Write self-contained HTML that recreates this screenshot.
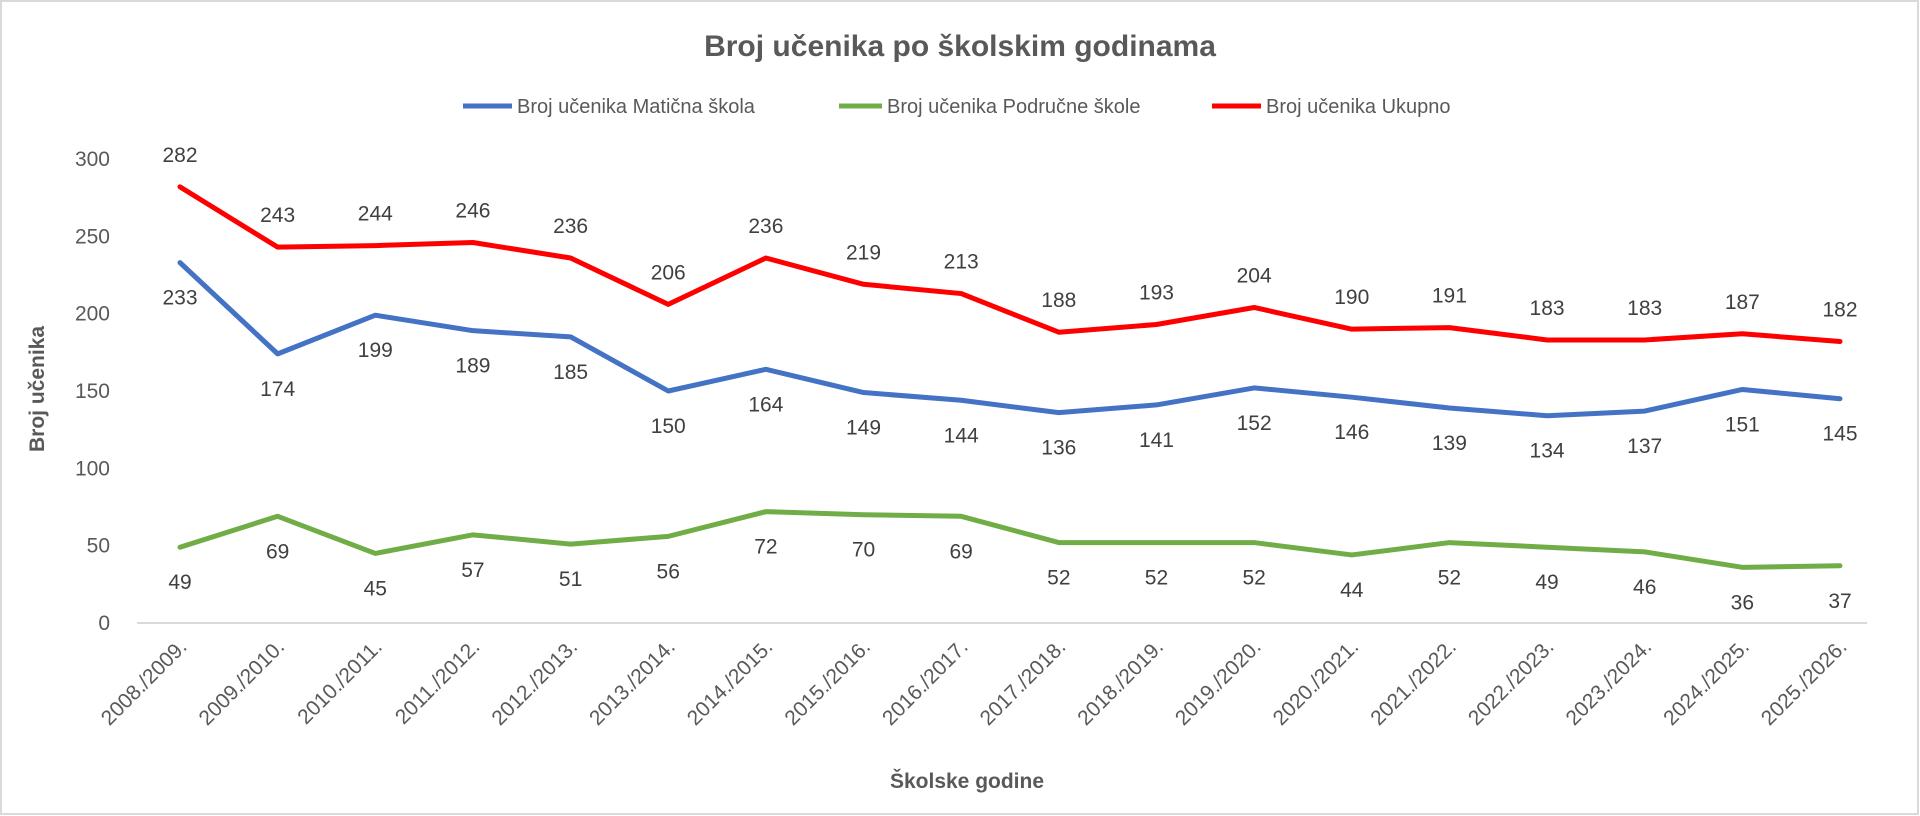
<!DOCTYPE html>
<html><head><meta charset="utf-8"><style>
body{margin:0;background:#fff;}
svg{display:block;font-family:"Liberation Sans",sans-serif;}
</style></head><body>
<svg id="chart" width="1920" height="816" viewBox="0 0 1920 816">
<rect x="1" y="1" width="1917" height="813" fill="#fff" stroke="#d9d9d9" stroke-width="2"/>
<text x="960" y="56" text-anchor="middle" font-size="30" font-weight="bold" fill="#595959">Broj učenika po školskim godinama</text>
<g>
<g><line x1="463" y1="106" x2="512" y2="106" stroke="#4472c4" stroke-width="5"/><text x="517" y="113" font-size="20" fill="#595959">Broj učenika Matična škola</text></g>
<g><line x1="839" y1="106" x2="882" y2="106" stroke="#70ad47" stroke-width="5"/><text x="887" y="113" font-size="20" fill="#595959">Broj učenika Područne škole</text></g>
<g><line x1="1212" y1="106" x2="1261" y2="106" stroke="#ff0000" stroke-width="5"/><text x="1266" y="113" font-size="20" fill="#595959">Broj učenika Ukupno</text></g>
</g>
<text transform="translate(44,389) rotate(-90)" text-anchor="middle" font-size="21" font-weight="bold" fill="#595959">Broj učenika</text>
<text x="967" y="788" text-anchor="middle" font-size="21" font-weight="bold" fill="#595959">Školske godine</text>
<g id="axes"></g>
<g id="series"></g>
</svg>
<script>
const categories=["2008./2009.","2009./2010.","2010./2011.","2011./2012.","2012./2013.","2013./2014.","2014./2015.","2015./2016.","2016./2017.","2017./2018.","2018./2019.","2019./2020.","2020./2021.","2021./2022.","2022./2023.","2023./2024.","2024./2025.","2025./2026."];
const maticna=[233,174,199,189,185,150,164,149,144,136,141,152,146,139,134,137,151,145];
const podrucne=[49,69,45,57,51,56,72,70,69,52,52,52,44,52,49,46,36,37];
const ukupno=[282,243,244,246,236,206,236,219,213,188,193,204,190,191,183,183,187,182];
const yTicks=[0,50,100,150,200,250,300];
const NS="http://www.w3.org/2000/svg";
const x0=180,x1=1840,y0=623,y300=159;
function xs(i){return x0+(x1-x0)*i/(categories.length-1);}
function ys(v){return y0-(y0-y300)*v/300;}
const axes=document.getElementById('axes');
function mk(tag,attrs,parent){const e=document.createElementNS(NS,tag);for(const k in attrs)e.setAttribute(k,attrs[k]);parent.appendChild(e);return e;}
const base=mk('line',{x1:137,x2:1867,y1:y0,y2:y0,stroke:'#d9d9d9','stroke-width':2},axes);


yTicks.forEach(t=>{const e=mk('text',{x:110,y:ys(t)+7,'text-anchor':'end','font-size':21,fill:'#595959'},axes);e.textContent=t;

});
categories.forEach((c,i)=>{const e=mk('text',{transform:`translate(${xs(i)+8},${y0+25}) rotate(-45)`,'text-anchor':'end','font-size':21,fill:'#595959'},axes);e.textContent=c;

});
const sg=document.getElementById('series');
function series(vals,color,name,off){
 const p=mk('polyline',{points:vals.map((v,i)=>xs(i)+','+ys(v)).join(' '),fill:'none',stroke:color,'stroke-width':5,'stroke-linejoin':'round','stroke-linecap':'round'},sg);
 
 
 vals.forEach((v,i)=>{const t=mk('text',{x:xs(i),y:ys(v)+off,'text-anchor':'middle','font-size':21,fill:'#404040'},sg);t.textContent=v;
 
 });
}
series(podrucne,'#70ad47','podrucne-skole',42);
series(maticna,'#4472c4','maticna-skola',42);
series(ukupno,'#ff0000','ukupno',-25);
</script>
</body></html>
